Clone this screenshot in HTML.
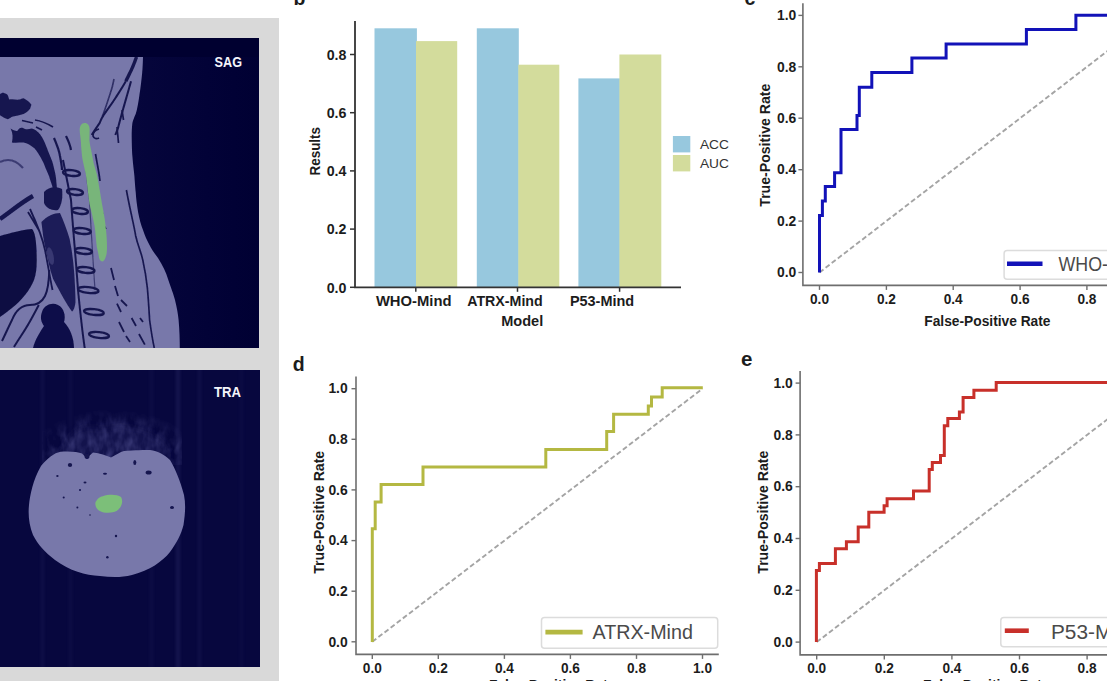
<!DOCTYPE html>
<html><head><meta charset="utf-8"><style>
html,body{margin:0;padding:0;background:#fff;}
body{width:1107px;height:681px;overflow:hidden;position:relative;}
svg{position:absolute;left:0;top:0;font-family:"Liberation Sans", sans-serif;}
</style></head><body>
<svg width="1107" height="681" viewBox="0 0 1107 681">
<defs><filter id="bl" x="-20%" y="-20%" width="140%" height="140%"><feGaussianBlur stdDeviation="0.7"/></filter><filter id="bl2" x="-30%" y="-30%" width="160%" height="160%"><feGaussianBlur stdDeviation="3"/></filter><clipPath id="sagclip"><rect x="0" y="57" width="259" height="291"/></clipPath><clipPath id="traclip"><rect x="0" y="370" width="260" height="297"/></clipPath></defs>
<rect x="0" y="18" width="279" height="663" fill="#d9d9d9"/>
<rect x="0" y="38" width="259" height="310" fill="#010136"/>
<rect x="0" y="38" width="259" height="19" fill="#000030"/>
<defs><linearGradient id="navg" x1="0" x2="1" y1="0" y2="0"><stop offset="0" stop-color="#06063c"/><stop offset="0.6" stop-color="#020237"/><stop offset="1" stop-color="#000033"/></linearGradient></defs>
<rect x="130" y="57" width="129" height="291" fill="url(#navg)"/>
<path d="M0,57 L143,57 C142.8,65 142.5,70 142.2,72.6 C141,85 140,92 139.3,96 C138,105 137,110 135.8,113.7 C134,118 133,120 132.4,123 C131.8,128 131.7,132 131.7,136.4 C131.8,145 132,150 132.4,156.3 C133,165 134,171 134.4,176 C135,185 135.5,190 135.7,192 C136.5,205 139,220 143,230 C147,242 152,250 158,258 C163,266 166,272 168,279 C171,288 173.5,294 175,300 C177,308 178,314 178.6,320 C179.5,330 179.8,340 179.8,348 L0,348 Z" fill="#7878aa"/>
<g filter="url(#bl)" clip-path="url(#sagclip)"><path d="M0,94.3 C1.5,93 3,92.5 3.9,93 C6,93.5 7.5,94.5 7.9,95.6 L9.2,99.5 C13,99 17,100 19.6,99.5 C21,99 22.5,98 23.6,98.2 C27,100 30,102 31.4,104.8 L30.1,108.7 C28,111 26,113 23.6,114 C20,115 16,116 13.1,116.6 C11,117 9,119 7.9,119.2 C5,118.5 2,116.5 0,115.3 Z" fill="#17174f"/><path d="M22,120.5 L33,123 M35,120 C42,121 48,124 53,127 M36,127 L42,130" stroke="#17174f" stroke-width="1.6" fill="none"/><path d="M10.6,128.5 C13,130 16,131.5 17.2,131 C19,128 21,127 23,128 C26,130 29,129 31.7,128.5 C35,129.5 37,131 38.5,132.5 C41,135 42.5,138 43.5,140 C45.5,144 47,148 48,151 C50,156 52,160 53,164 C54.5,170 55.5,174 56,178 L57,189 L53,189 C52,184 50,180 49,176 C47,171 45,167 43.6,163 C40,156 37,151 34.4,148.3 C30,145 27,143 23.8,142.5 C19,142.5 15,143 11.9,142.5 C13,138 13,133 10.6,128.5 Z" fill="#17174f"/><path d="M54,138 C57,145 59.5,152 60,156 C61,162 62,166 62,170 M66,136 C68,140 70,144 71,150" stroke="#17174f" stroke-width="2.2" fill="none"/><path d="M0,162 C8,158 16,160 23,168" stroke="#17174f" stroke-width="2" fill="none" opacity="0.6"/><path d="M0,219 C10,212 22,202 33,196" stroke="#17174f" stroke-width="4.5" fill="none"/><path d="M28,212 L38.8,230 M30,209 C36,222 42,235 45,250 C48,265 50,278 52.5,290" stroke="#17174f" stroke-width="1.8" fill="none"/><path d="M0,236 C10,233 25,229 32,229 C35,232 36,240 36.5,250 C37,262 37,272 34,280 C30,290 22,300 12,308 C7,312 3,315 0,317 Z" fill="#0c0c42"/><path d="M41.4,222 C47,216 54,213 60,213 C64,222 67,230 69.6,238.7 C72,250 73.5,262 74.3,274 C75,285 75.5,295 75.5,302 C75,307 73.5,311 72,311.5 C67,305 60,292 53,278.7 C50,270 48,260 46,250.5 C44,242 43,236 42.6,231.7 Z" fill="#1f1f58"/><path d="M44,192 C48,187 56,186 62,189 C63,196 62,205 58,210 C52,211 46,208 44,203 Z" fill="#17174f"/><ellipse cx="50.5" cy="256" rx="3" ry="9" fill="#4a4a84" opacity="0.6" transform="rotate(-12 50.5 256)"/><path d="M42,312 C44,305 52,302 58,305 C64,308 66,316 64,322 C70,328 74,338 74,348 L33,348 C35,340 40,332 44,326 C41,322 40,317 42,312 Z" fill="#0e0e48"/><path d="M49.3,270 C49,280 48,290 45,296 C42,302 38,305 30,305 C22,305 16,310 12,320 C8,328 5,335 2,341 M38.8,305 C35,312 32,318 29,323 C24,332 18,340 14,347" stroke="#17174f" stroke-width="2" fill="none"/><path d="M63,160 C66,175 69,190 71,200 C73,230 76,260 78,290 C80,310 82,330 85,350" stroke="#17174f" stroke-width="2" fill="none"/><ellipse cx="71.5" cy="173" rx="8.5" ry="2.9" fill="none" stroke="#17174f" stroke-width="2.4" transform="rotate(6 71.5 173)"/><ellipse cx="75.0" cy="192" rx="8.0" ry="2.9" fill="none" stroke="#17174f" stroke-width="2.4" transform="rotate(6 75.0 192)"/><ellipse cx="80.0" cy="211" rx="8.0" ry="2.9" fill="none" stroke="#17174f" stroke-width="2.4" transform="rotate(6 80.0 211)"/><ellipse cx="82.19999999999999" cy="231" rx="8.600000000000001" ry="2.9" fill="none" stroke="#17174f" stroke-width="2.4" transform="rotate(6 82.19999999999999 231)"/><ellipse cx="83.5" cy="251" rx="8.5" ry="2.9" fill="none" stroke="#17174f" stroke-width="2.4" transform="rotate(6 83.5 251)"/><ellipse cx="85.75" cy="270" rx="8.75" ry="2.9" fill="none" stroke="#17174f" stroke-width="2.4" transform="rotate(6 85.75 270)"/><ellipse cx="88.25" cy="290" rx="10.25" ry="2.9" fill="none" stroke="#17174f" stroke-width="2.4" transform="rotate(6 88.25 290)"/><ellipse cx="93.9" cy="312" rx="9.899999999999999" ry="2.9" fill="none" stroke="#17174f" stroke-width="2.4" transform="rotate(6 93.9 312)"/><ellipse cx="99.0" cy="335" rx="10.0" ry="2.9" fill="none" stroke="#17174f" stroke-width="2.4" transform="rotate(6 99.0 335)"/><path d="M84,140 C86,170 88,190 89.5,200 C91,230 93,260 95,290" stroke="#17174f" stroke-width="1.2" fill="none" opacity="0.6"/><path d="M136.5,57 C134,64 132,69 129.7,73.3 C128,77 127,79 125.8,81.2" stroke="#17174f" stroke-width="3.4" fill="none"/><path d="M125.8,81.2 C122,88 118,94 115.3,98.2 C111,105 107,110 103.5,115.3 C101.5,118 100.5,121 99.6,123.1 C97,127 94,131 91.7,135 M131,81.2 C127,96 122,112 117.9,128.4 L115.3,135" stroke="#17174f" stroke-width="2" fill="none"/><path d="M114,79 C113,85 111.5,90 110,94.3 C107,103 105,110 102.2,116.6" stroke="#17174f" stroke-width="1.6" fill="none" opacity="0.75"/><path d="M99,129 C95,130 93,133 93,136 C94,139 97,139 99,138 M95.5,154 C97,163 99,172 100,181 M117,127 L118.5,143 M122,110 L123.5,120 M126.4,190 C130,210 134,225 135.7,236 C138,246 141,252 142.7,259.6 C145,270 146.5,280 147.3,287.5 C148.5,300 149,310 149.6,320 C151,330 152.5,340 154.3,348" stroke="#17174f" stroke-width="1.7" fill="none"/><path d="M111,268 L114,280 M115,286 L118,296 M117,303.6 L121,312 M119,322 L124,332 M126,336 L130,342 M131.6,318 L136,326 M139,334 L144.8,344.6 M100,211 L103,214 M104,226 L106,229 M121,300 L127,306 M140,318 L143,322" stroke="#17174f" stroke-width="1.8" fill="none"/></g>
<path d="M84.6,123 C88,123 89.8,126 89.6,130 L89.4,140.4 C90,145 90.5,147 91,149.6 C92,155 93,159 93.6,163 L96.8,174 C99,185 100.5,195 102,204 C103.5,212 105,219 105.6,226 C106.5,234 107,241 107,247 C107,252 106.5,255 106,256 C105,260 103.5,261.5 102,261.5 C100,261 99,259 98.7,255.5 C98,252 97.5,250 96.8,247 C96,240 95.5,232 94.6,226 C93,218 91,210 89.5,204 C88,193 87,183 85.8,174 C84,166 82.5,160 82,156 C81.5,150 81,146 81,143 C80.5,137 79.7,133 79.7,129.8 C79.7,126 81.5,123 84.6,123 Z" fill="#78b57a" filter="url(#bl)"/>
<text x="214.6" y="67.2" font-size="14.5" font-weight="bold" fill="#f4f4fa" textLength="27.4" lengthAdjust="spacingAndGlyphs">SAG</text>
<rect x="0" y="370" width="260" height="297" fill="#07073e"/>
<defs><radialGradient id="hairg" cx="0.5" cy="0.85" r="0.6"><stop offset="0" stop-color="#22225e" stop-opacity="1"/><stop offset="0.55" stop-color="#1a1a55" stop-opacity="0.85"/><stop offset="1" stop-color="#0a0a40" stop-opacity="0"/></radialGradient><filter id="noise" x="0" y="0" width="100%" height="100%"><feTurbulence type="fractalNoise" baseFrequency="0.45 0.25" numOctaves="2" seed="7" result="n"/><feColorMatrix in="n" type="matrix" values="0 0 0 0 0.16  0 0 0 0 0.16  0 0 0 0 0.42  0 0 0 2.2 -0.95"/><feComposite in2="SourceGraphic" operator="in"/></filter><filter id="vbl" x="-200%" y="0" width="500%" height="100%"><feGaussianBlur stdDeviation="1.5 0"/></filter></defs>
<defs><radialGradient id="hairg2" cx="0.5" cy="0.92" r="0.62"><stop offset="0" stop-color="#fff" stop-opacity="0.9"/><stop offset="0.55" stop-color="#fff" stop-opacity="0.6"/><stop offset="1" stop-color="#fff" stop-opacity="0"/></radialGradient><filter id="hairtex" x="0" y="0" width="100%" height="100%"><feTurbulence type="fractalNoise" baseFrequency="0.12 0.06" numOctaves="3" seed="11" result="n"/><feColorMatrix in="n" type="matrix" values="0 0 0 0 0.14  0 0 0 0 0.14  0 0 0 0 0.40  0 0 0 1.8 -0.65" result="c"/><feGaussianBlur in="c" stdDeviation="0.5" result="cb"/><feComposite in="cb" in2="SourceAlpha" operator="in"/></filter></defs>
<g clip-path="url(#traclip)"><rect x="41" y="370" width="3" height="297" fill="#2a2a66" opacity="0.25" filter="url(#vbl)"/><rect x="69" y="370" width="3" height="297" fill="#2a2a66" opacity="0.18" filter="url(#vbl)"/><rect x="150" y="370" width="3" height="297" fill="#2a2a66" opacity="0.2" filter="url(#vbl)"/><rect x="176" y="370" width="4" height="297" fill="#2a2a66" opacity="0.4" filter="url(#vbl)"/><rect x="198" y="370" width="3" height="297" fill="#2a2a66" opacity="0.25" filter="url(#vbl)"/><rect x="240" y="370" width="3" height="297" fill="#2a2a66" opacity="0.15" filter="url(#vbl)"/><rect x="42" y="385" width="140" height="80" fill="url(#hairg2)" filter="url(#hairtex)"/><g filter="url(#bl2)" opacity="0.45"><path d="M62,458 C64,445 70,432 82,428 C95,425 105,432 112,428 C125,424 140,430 150,434 C162,440 168,450 168,460 Z" fill="#24245f"/></g></g>
<path d="M41,466 C48,458 54,453 60.6,451.8 C70,451 78,452 82,453.4 L86.7,458.3 L93,452.6 C100,453 106,456 111,457.5 C116,455 120,452 124,451 C135,450 145,450 150,450 C158,451 165,455 170,460 C175,468 180,480 184,495 C186,505 185,515 183.5,525 C181,535 177,542 170,552 C162,562 150,570 132,575 C120,578 110,577 100,576 C85,575 70,571 55,560 C45,552 38,545 33,535 C29,525 28,515 29,505 C30,495 33,480 41,466 Z" fill="#7878aa" filter="url(#bl)"/>
<g filter="url(#bl)"><ellipse cx="70" cy="465" rx="2.2" ry="2" fill="#14144f"/><ellipse cx="87" cy="456" rx="2.5" ry="3" fill="#14144f"/><ellipse cx="134.8" cy="462.4" rx="1.5" ry="2.5" fill="#14144f"/><ellipse cx="148.6" cy="472.4" rx="3" ry="2" fill="#14144f"/><ellipse cx="57.4" cy="476" rx="1.2" ry="1" fill="#14144f"/><ellipse cx="85" cy="482.4" rx="1.5" ry="1" fill="#14144f"/><ellipse cx="105" cy="473.7" rx="2" ry="1" fill="#14144f"/><ellipse cx="63.7" cy="497.4" rx="1" ry="1" fill="#14144f"/><ellipse cx="77.4" cy="507.4" rx="1" ry="1" fill="#14144f"/><ellipse cx="172" cy="507.4" rx="2" ry="1.5" fill="#14144f"/><ellipse cx="116" cy="536" rx="1.2" ry="1.2" fill="#14144f"/><ellipse cx="107.4" cy="557.3" rx="1.2" ry="1.2" fill="#14144f"/><ellipse cx="80" cy="490" rx="1" ry="1" fill="#14144f"/><ellipse cx="90" cy="515" rx="0.8" ry="0.8" fill="#14144f"/></g>
<path d="M97,500 C100,495 115,493 121,497 C124,502 121,510 114,512 C106,514 98,512 96,507 C95,504 95,502 97,500 Z" fill="#7cbf79" filter="url(#bl)"/>
<text x="214" y="397.2" font-size="14" font-weight="bold" fill="#f4f4fa" textLength="27" lengthAdjust="spacingAndGlyphs">TRA</text>
<rect x="374.5" y="28.3" width="42.4" height="259.0" fill="#97c8de"/>
<rect x="416" y="41.1" width="41.2" height="246.2" fill="#d3dc9c"/>
<rect x="476.8" y="28.3" width="42" height="259.0" fill="#97c8de"/>
<rect x="518.3" y="64.7" width="41" height="222.6" fill="#d3dc9c"/>
<rect x="578.4" y="78.4" width="41.5" height="208.9" fill="#97c8de"/>
<rect x="619.4" y="54.5" width="41.9" height="232.8" fill="#d3dc9c"/>
<path d="M355,21 V287.3 H681" fill="none" stroke="#333" stroke-width="1.8"/>
<line x1="350" y1="287.3" x2="355" y2="287.3" stroke="#333" stroke-width="1.5"/>
<text x="346.5" y="292.5" font-size="14.5" font-weight="bold" text-anchor="end" fill="#1c1c1c" textLength="19.8" lengthAdjust="spacingAndGlyphs" >0.0</text>
<line x1="350" y1="229.1" x2="355" y2="229.1" stroke="#333" stroke-width="1.5"/>
<text x="346.5" y="234.3" font-size="14.5" font-weight="bold" text-anchor="end" fill="#1c1c1c" textLength="19.8" lengthAdjust="spacingAndGlyphs" >0.2</text>
<line x1="350" y1="170.9" x2="355" y2="170.9" stroke="#333" stroke-width="1.5"/>
<text x="346.5" y="176.1" font-size="14.5" font-weight="bold" text-anchor="end" fill="#1c1c1c" textLength="19.8" lengthAdjust="spacingAndGlyphs" >0.4</text>
<line x1="350" y1="112.7" x2="355" y2="112.7" stroke="#333" stroke-width="1.5"/>
<text x="346.5" y="117.9" font-size="14.5" font-weight="bold" text-anchor="end" fill="#1c1c1c" textLength="19.8" lengthAdjust="spacingAndGlyphs" >0.6</text>
<line x1="350" y1="54.5" x2="355" y2="54.5" stroke="#333" stroke-width="1.5"/>
<text x="346.5" y="59.7" font-size="14.5" font-weight="bold" text-anchor="end" fill="#1c1c1c" textLength="19.8" lengthAdjust="spacingAndGlyphs" >0.8</text>
<line x1="415.8" y1="287.3" x2="415.8" y2="291.8" stroke="#333" stroke-width="1.5"/>
<line x1="517.5" y1="287.3" x2="517.5" y2="291.8" stroke="#333" stroke-width="1.5"/>
<line x1="619.6" y1="287.3" x2="619.6" y2="291.8" stroke="#333" stroke-width="1.5"/>
<text x="375.9" y="305.9" font-size="14.3" font-weight="bold" text-anchor="start" fill="#1c1c1c" textLength="75.6" lengthAdjust="spacingAndGlyphs" >WHO-Mind</text>
<text x="467.2" y="305.9" font-size="14.3" font-weight="bold" text-anchor="start" fill="#1c1c1c" textLength="75.5" lengthAdjust="spacingAndGlyphs" >ATRX-Mind</text>
<text x="569.9" y="305.9" font-size="14.3" font-weight="bold" text-anchor="start" fill="#1c1c1c" textLength="64.3" lengthAdjust="spacingAndGlyphs" >P53-Mind</text>
<text x="501.2" y="325.9" font-size="14" font-weight="bold" text-anchor="start" fill="#1c1c1c" textLength="42" lengthAdjust="spacingAndGlyphs" >Model</text>
<text transform="translate(320 151.2) rotate(-90)" x="0" y="0" font-size="14.8" font-weight="bold" text-anchor="middle" fill="#1c1c1c" textLength="48.4" lengthAdjust="spacingAndGlyphs">Results</text>
<rect x="672.9" y="136" width="17.4" height="16.4" fill="#97c8de"/>
<rect x="672.9" y="155" width="17.4" height="16.4" fill="#d3dc9c"/>
<text x="699.9" y="149.3" font-size="13.7" font-weight="normal" text-anchor="start" fill="#333" textLength="29" lengthAdjust="spacingAndGlyphs" >ACC</text>
<text x="699.9" y="168.3" font-size="13.7" font-weight="normal" text-anchor="start" fill="#333" textLength="29" lengthAdjust="spacingAndGlyphs" >AUC</text>
<text x="293.5" y="5.1" font-size="19.5" font-weight="bold" text-anchor="start" fill="#1c1c1c" >b</text>
<path d="M802.9,3.2 V285.4 H1107" fill="none" stroke="#6e6e6e" stroke-width="1.6"/>
<line x1="798.4" y1="272.5" x2="802.9" y2="272.5" stroke="#6e6e6e" stroke-width="1.4"/>
<text x="796.3" y="277.2" font-size="14.5" font-weight="bold" text-anchor="end" fill="#1c1c1c" textLength="19.3" lengthAdjust="spacingAndGlyphs" >0.0</text>
<line x1="798.4" y1="221.1" x2="802.9" y2="221.1" stroke="#6e6e6e" stroke-width="1.4"/>
<text x="796.3" y="225.8" font-size="14.5" font-weight="bold" text-anchor="end" fill="#1c1c1c" textLength="19.3" lengthAdjust="spacingAndGlyphs" >0.2</text>
<line x1="798.4" y1="169.7" x2="802.9" y2="169.7" stroke="#6e6e6e" stroke-width="1.4"/>
<text x="796.3" y="174.4" font-size="14.5" font-weight="bold" text-anchor="end" fill="#1c1c1c" textLength="19.3" lengthAdjust="spacingAndGlyphs" >0.4</text>
<line x1="798.4" y1="118.2" x2="802.9" y2="118.2" stroke="#6e6e6e" stroke-width="1.4"/>
<text x="796.3" y="122.9" font-size="14.5" font-weight="bold" text-anchor="end" fill="#1c1c1c" textLength="19.3" lengthAdjust="spacingAndGlyphs" >0.6</text>
<line x1="798.4" y1="66.8" x2="802.9" y2="66.8" stroke="#6e6e6e" stroke-width="1.4"/>
<text x="796.3" y="71.5" font-size="14.5" font-weight="bold" text-anchor="end" fill="#1c1c1c" textLength="19.3" lengthAdjust="spacingAndGlyphs" >0.8</text>
<line x1="798.4" y1="15.4" x2="802.9" y2="15.4" stroke="#6e6e6e" stroke-width="1.4"/>
<text x="796.3" y="20.1" font-size="14.5" font-weight="bold" text-anchor="end" fill="#1c1c1c" textLength="19.3" lengthAdjust="spacingAndGlyphs" >1.0</text>
<line x1="819.5" y1="285.4" x2="819.5" y2="289.9" stroke="#6e6e6e" stroke-width="1.4"/>
<text x="819.5" y="303.9" font-size="14.5" font-weight="bold" text-anchor="middle" fill="#1c1c1c" textLength="19.0" lengthAdjust="spacingAndGlyphs" >0.0</text>
<line x1="886.4" y1="285.4" x2="886.4" y2="289.9" stroke="#6e6e6e" stroke-width="1.4"/>
<text x="886.4" y="303.9" font-size="14.5" font-weight="bold" text-anchor="middle" fill="#1c1c1c" textLength="19.0" lengthAdjust="spacingAndGlyphs" >0.2</text>
<line x1="953.2" y1="285.4" x2="953.2" y2="289.9" stroke="#6e6e6e" stroke-width="1.4"/>
<text x="953.2" y="303.9" font-size="14.5" font-weight="bold" text-anchor="middle" fill="#1c1c1c" textLength="19.0" lengthAdjust="spacingAndGlyphs" >0.4</text>
<line x1="1020.1" y1="285.4" x2="1020.1" y2="289.9" stroke="#6e6e6e" stroke-width="1.4"/>
<text x="1020.1" y="303.9" font-size="14.5" font-weight="bold" text-anchor="middle" fill="#1c1c1c" textLength="19.0" lengthAdjust="spacingAndGlyphs" >0.6</text>
<line x1="1086.9" y1="285.4" x2="1086.9" y2="289.9" stroke="#6e6e6e" stroke-width="1.4"/>
<text x="1086.9" y="303.9" font-size="14.5" font-weight="bold" text-anchor="middle" fill="#1c1c1c" textLength="19.0" lengthAdjust="spacingAndGlyphs" >0.8</text>
<line x1="819.5" y1="272.5" x2="1153.8" y2="15.399999999999977" stroke="#a4a4a4" stroke-width="1.9" stroke-dasharray="5 2.7"/>
<path d="M819.5,272.5 V215.6 H822.4 V201 H825.3 V186.5 H834.6 V172.7 H841 V129.6 H857 V115.6 H859.3 V87.3 H871.8 V72.4 H911.9 V57.9 H946.1 V43.9 H1026.4 V29.4 H1075.9 V15.2 H1110" fill="none" stroke="#1212b8" stroke-width="3" stroke-linejoin="miter"/>
<text transform="translate(770 145.2) rotate(-90)" x="0" y="0" font-size="14.8" font-weight="bold" text-anchor="middle" fill="#1c1c1c" textLength="123" lengthAdjust="spacingAndGlyphs">True-Positive Rate</text>
<rect x="1004.1" y="250.6" width="140" height="28.7" rx="3" fill="#fff" stroke="#dcdcdc" stroke-width="1.5"/>
<line x1="1007" y1="263.8" x2="1042.5" y2="263.8" stroke="#1212b8" stroke-width="4.6"/>
<text x="1058.5" y="270.7" font-size="19.4" font-weight="normal" text-anchor="start" fill="#4a4a4a" textLength="88" lengthAdjust="spacingAndGlyphs" >WHO-Mind</text>
<text x="744.5" y="5.1" font-size="19.5" font-weight="bold" text-anchor="start" fill="#1c1c1c" >c</text>
<text x="924.3" y="325.8" font-size="14" font-weight="bold" text-anchor="start" fill="#1c1c1c" textLength="126.2" lengthAdjust="spacingAndGlyphs" >False-Positive Rate</text>
<path d="M356,376.6 V654.4 H718.8" fill="none" stroke="#6e6e6e" stroke-width="1.6"/>
<line x1="351.5" y1="641.8" x2="356" y2="641.8" stroke="#6e6e6e" stroke-width="1.4"/>
<text x="347.7" y="646.5" font-size="14.5" font-weight="bold" text-anchor="end" fill="#1c1c1c" textLength="19.3" lengthAdjust="spacingAndGlyphs" >0.0</text>
<line x1="351.5" y1="591.2" x2="356" y2="591.2" stroke="#6e6e6e" stroke-width="1.4"/>
<text x="347.7" y="595.9" font-size="14.5" font-weight="bold" text-anchor="end" fill="#1c1c1c" textLength="19.3" lengthAdjust="spacingAndGlyphs" >0.2</text>
<line x1="351.5" y1="540.6" x2="356" y2="540.6" stroke="#6e6e6e" stroke-width="1.4"/>
<text x="347.7" y="545.3" font-size="14.5" font-weight="bold" text-anchor="end" fill="#1c1c1c" textLength="19.3" lengthAdjust="spacingAndGlyphs" >0.4</text>
<line x1="351.5" y1="489.9" x2="356" y2="489.9" stroke="#6e6e6e" stroke-width="1.4"/>
<text x="347.7" y="494.6" font-size="14.5" font-weight="bold" text-anchor="end" fill="#1c1c1c" textLength="19.3" lengthAdjust="spacingAndGlyphs" >0.6</text>
<line x1="351.5" y1="439.3" x2="356" y2="439.3" stroke="#6e6e6e" stroke-width="1.4"/>
<text x="347.7" y="444.0" font-size="14.5" font-weight="bold" text-anchor="end" fill="#1c1c1c" textLength="19.3" lengthAdjust="spacingAndGlyphs" >0.8</text>
<line x1="351.5" y1="388.7" x2="356" y2="388.7" stroke="#6e6e6e" stroke-width="1.4"/>
<text x="347.7" y="393.4" font-size="14.5" font-weight="bold" text-anchor="end" fill="#1c1c1c" textLength="19.3" lengthAdjust="spacingAndGlyphs" >1.0</text>
<line x1="372.3" y1="654.4" x2="372.3" y2="658.9" stroke="#6e6e6e" stroke-width="1.4"/>
<text x="372.3" y="672.9" font-size="14.5" font-weight="bold" text-anchor="middle" fill="#1c1c1c" textLength="19.0" lengthAdjust="spacingAndGlyphs" >0.0</text>
<line x1="438.3" y1="654.4" x2="438.3" y2="658.9" stroke="#6e6e6e" stroke-width="1.4"/>
<text x="438.3" y="672.9" font-size="14.5" font-weight="bold" text-anchor="middle" fill="#1c1c1c" textLength="19.0" lengthAdjust="spacingAndGlyphs" >0.2</text>
<line x1="504.4" y1="654.4" x2="504.4" y2="658.9" stroke="#6e6e6e" stroke-width="1.4"/>
<text x="504.4" y="672.9" font-size="14.5" font-weight="bold" text-anchor="middle" fill="#1c1c1c" textLength="19.0" lengthAdjust="spacingAndGlyphs" >0.4</text>
<line x1="570.4" y1="654.4" x2="570.4" y2="658.9" stroke="#6e6e6e" stroke-width="1.4"/>
<text x="570.4" y="672.9" font-size="14.5" font-weight="bold" text-anchor="middle" fill="#1c1c1c" textLength="19.0" lengthAdjust="spacingAndGlyphs" >0.6</text>
<line x1="636.5" y1="654.4" x2="636.5" y2="658.9" stroke="#6e6e6e" stroke-width="1.4"/>
<text x="636.5" y="672.9" font-size="14.5" font-weight="bold" text-anchor="middle" fill="#1c1c1c" textLength="19.0" lengthAdjust="spacingAndGlyphs" >0.8</text>
<line x1="702.5" y1="654.4" x2="702.5" y2="658.9" stroke="#6e6e6e" stroke-width="1.4"/>
<text x="702.5" y="672.9" font-size="14.5" font-weight="bold" text-anchor="middle" fill="#1c1c1c" textLength="19.0" lengthAdjust="spacingAndGlyphs" >1.0</text>
<line x1="372.3" y1="641.8" x2="702.5" y2="388.69999999999993" stroke="#a4a4a4" stroke-width="1.9" stroke-dasharray="5 2.7"/>
<path d="M372.3,642 V528.8 H375.2 V501.9 H381.1 V484.6 H423 V467 H545.8 V449.5 H606.7 V431.4 H613.6 V414.3 H648.3 V406.1 H651.5 V397.1 H662.2 V387.7 H702.8" fill="none" stroke="#b4b842" stroke-width="3" stroke-linejoin="miter"/>
<text transform="translate(323.5 512.3) rotate(-90)" x="0" y="0" font-size="14.8" font-weight="bold" text-anchor="middle" fill="#1c1c1c" textLength="123" lengthAdjust="spacingAndGlyphs">True-Positive Rate</text>
<rect x="541.5" y="617.5" width="176.2" height="30.8" rx="3" fill="#fff" stroke="#dcdcdc" stroke-width="1.5"/>
<line x1="545.4" y1="632.1" x2="582.6" y2="632.1" stroke="#b4b842" stroke-width="4.6"/>
<text x="592.5" y="639.3" font-size="19.4" font-weight="normal" text-anchor="start" fill="#4a4a4a" textLength="100.4" lengthAdjust="spacingAndGlyphs" >ATRX-Mind</text>
<text x="292.8" y="370.5" font-size="19.5" font-weight="bold" text-anchor="start" fill="#1c1c1c" >d</text>
<text x="489" y="690" font-size="14" font-weight="bold" text-anchor="start" fill="#1c1c1c" textLength="126.2" lengthAdjust="spacingAndGlyphs" >False-Positive Rate</text>
<path d="M800.1,371 V654.9 H1107" fill="none" stroke="#6e6e6e" stroke-width="1.6"/>
<line x1="795.6" y1="642.1" x2="800.1" y2="642.1" stroke="#6e6e6e" stroke-width="1.4"/>
<text x="792.8" y="646.8" font-size="14.5" font-weight="bold" text-anchor="end" fill="#1c1c1c" textLength="19.3" lengthAdjust="spacingAndGlyphs" >0.0</text>
<line x1="795.6" y1="590.3" x2="800.1" y2="590.3" stroke="#6e6e6e" stroke-width="1.4"/>
<text x="792.8" y="595.0" font-size="14.5" font-weight="bold" text-anchor="end" fill="#1c1c1c" textLength="19.3" lengthAdjust="spacingAndGlyphs" >0.2</text>
<line x1="795.6" y1="538.5" x2="800.1" y2="538.5" stroke="#6e6e6e" stroke-width="1.4"/>
<text x="792.8" y="543.2" font-size="14.5" font-weight="bold" text-anchor="end" fill="#1c1c1c" textLength="19.3" lengthAdjust="spacingAndGlyphs" >0.4</text>
<line x1="795.6" y1="486.7" x2="800.1" y2="486.7" stroke="#6e6e6e" stroke-width="1.4"/>
<text x="792.8" y="491.4" font-size="14.5" font-weight="bold" text-anchor="end" fill="#1c1c1c" textLength="19.3" lengthAdjust="spacingAndGlyphs" >0.6</text>
<line x1="795.6" y1="434.9" x2="800.1" y2="434.9" stroke="#6e6e6e" stroke-width="1.4"/>
<text x="792.8" y="439.6" font-size="14.5" font-weight="bold" text-anchor="end" fill="#1c1c1c" textLength="19.3" lengthAdjust="spacingAndGlyphs" >0.8</text>
<line x1="795.6" y1="383.1" x2="800.1" y2="383.1" stroke="#6e6e6e" stroke-width="1.4"/>
<text x="792.8" y="387.8" font-size="14.5" font-weight="bold" text-anchor="end" fill="#1c1c1c" textLength="19.3" lengthAdjust="spacingAndGlyphs" >1.0</text>
<line x1="816.7" y1="654.9" x2="816.7" y2="659.4" stroke="#6e6e6e" stroke-width="1.4"/>
<text x="816.7" y="673.4" font-size="14.5" font-weight="bold" text-anchor="middle" fill="#1c1c1c" textLength="19.0" lengthAdjust="spacingAndGlyphs" >0.0</text>
<line x1="884.3" y1="654.9" x2="884.3" y2="659.4" stroke="#6e6e6e" stroke-width="1.4"/>
<text x="884.3" y="673.4" font-size="14.5" font-weight="bold" text-anchor="middle" fill="#1c1c1c" textLength="19.0" lengthAdjust="spacingAndGlyphs" >0.2</text>
<line x1="951.9" y1="654.9" x2="951.9" y2="659.4" stroke="#6e6e6e" stroke-width="1.4"/>
<text x="951.9" y="673.4" font-size="14.5" font-weight="bold" text-anchor="middle" fill="#1c1c1c" textLength="19.0" lengthAdjust="spacingAndGlyphs" >0.4</text>
<line x1="1019.5" y1="654.9" x2="1019.5" y2="659.4" stroke="#6e6e6e" stroke-width="1.4"/>
<text x="1019.5" y="673.4" font-size="14.5" font-weight="bold" text-anchor="middle" fill="#1c1c1c" textLength="19.0" lengthAdjust="spacingAndGlyphs" >0.6</text>
<line x1="1087.1" y1="654.9" x2="1087.1" y2="659.4" stroke="#6e6e6e" stroke-width="1.4"/>
<text x="1087.1" y="673.4" font-size="14.5" font-weight="bold" text-anchor="middle" fill="#1c1c1c" textLength="19.0" lengthAdjust="spacingAndGlyphs" >0.8</text>
<line x1="816.7" y1="642.1" x2="1154.7" y2="383.1" stroke="#a4a4a4" stroke-width="1.9" stroke-dasharray="5 2.7"/>
<path d="M816.4,642.1 V570.6 H819.4 V563.6 H835.4 V548.7 H846.4 V541.7 H858.2 V526.9 H868.8 V512.3 H884.1 V505.7 H887.1 V498.7 H913.5 V491.1 H929.2 V469.5 H932.3 V462.4 H940.5 V455.4 H944.3 V425.7 H947.8 V418.5 H959.4 V412 H963.1 V397.5 H973.9 V390.2 H996.2 V382.6 H1110" fill="none" stroke="#c8302a" stroke-width="3" stroke-linejoin="miter"/>
<text transform="translate(767.6 512.2) rotate(-90)" x="0" y="0" font-size="14.8" font-weight="bold" text-anchor="middle" fill="#1c1c1c" textLength="123" lengthAdjust="spacingAndGlyphs">True-Positive Rate</text>
<rect x="1000.8" y="617.4" width="140" height="29.4" rx="3" fill="#fff" stroke="#dcdcdc" stroke-width="1.5"/>
<line x1="1004.8" y1="630.7" x2="1028.8" y2="630.7" stroke="#c8302a" stroke-width="4.6"/>
<text x="1051" y="639.4" font-size="19.4" font-weight="normal" text-anchor="start" fill="#4a4a4a" textLength="89" lengthAdjust="spacingAndGlyphs" >P53-Mind</text>
<text x="741" y="365.8" font-size="20.5" font-weight="bold" text-anchor="start" fill="#1c1c1c" >e</text>
<text x="923.1" y="689.6" font-size="14" font-weight="bold" text-anchor="start" fill="#1c1c1c" textLength="126.2" lengthAdjust="spacingAndGlyphs" >False-Positive Rate</text>
</svg>
</body></html>
